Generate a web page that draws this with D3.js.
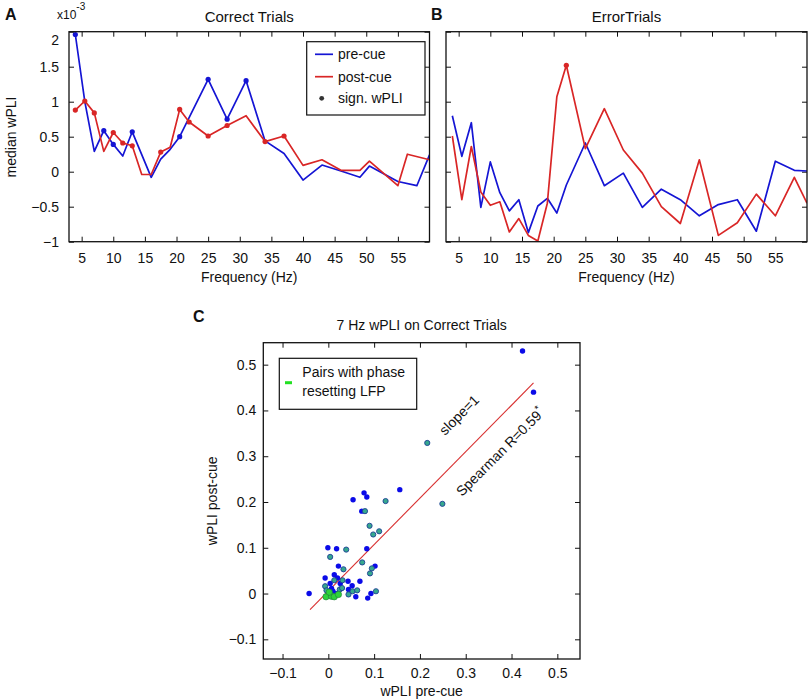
<!DOCTYPE html>
<html><head><meta charset="utf-8">
<script src="https://cdn.jsdelivr.net/npm/d3@7"></script>
<style>
body{margin:0;background:#fff;}
text{font-family:"Liberation Sans",Arial,Helvetica,sans-serif;fill:#111;}
</style></head><body>
<svg id="chart" width="810" height="700"></svg>
<script>
// ---------- data: panel A (Correct Trials) ----------
const freqAPre = [4,5.5,7,8.5,10,11.5,13,16,17.5,19,20.5,25,28,31,34,37,40,43,46,49,50.5,55,58,60];
const valAPre  = [1.96,1.0,0.29,0.586,0.39,0.224,0.57,-0.08,0.18,0.32,0.50,1.32,0.75,1.30,0.44,0.26,-0.12,0.095,0.01,-0.08,0.08,-0.14,-0.20,0.24];
const sigAPre  = [4,8.5,10,13,20.5,25,28,31];
const freqAPost = [4,5.5,7,8.5,10,11.5,13,14.5,16,17.5,19,20.5,22,25,28,31,34,37,40,43,46,49,50.5,55,56.5,60];
const valAPost  = [0.88,1.01,0.84,0.29,0.56,0.41,0.37,-0.04,-0.04,0.28,0.35,0.89,0.71,0.51,0.66,0.80,0.43,0.51,0.09,0.17,0.02,0.02,0.15,-0.20,0.25,0.17];
const sigAPost  = [4,5.5,7,10,11.5,13,17.5,20.5,22,25,28,34,37];
// ---------- data: panel B (Error Trials) ----------
const freqB = [4,5.5,7,8.5,10,11.5,13,14.5,16,17.5,19,20.5,22,25,28,31,34,37,40,43,46,49,52,55,58,60];
const valBPre  = [0.80,0.22,0.70,-0.51,0.14,-0.30,-0.56,-0.40,-0.87,-0.49,-0.38,-0.59,-0.19,0.41,-0.20,-0.02,-0.51,-0.25,-0.40,-0.63,-0.47,-0.40,-0.85,0.15,0.02,0.01];
const valBPost = [0.51,-0.40,0.36,-0.29,-0.48,-0.43,-0.86,-0.67,-0.91,-0.99,-0.45,1.07,1.52,0.33,0.90,0.31,-0.02,-0.50,-0.74,0.17,-0.91,-0.73,-0.32,-0.63,-0.08,-0.45];
const sigBPre  = [];
const sigBPost = [22];
// ---------- axes ticks ----------
const freqTicks = [5,10,15,20,25,30,35,40,45,50,55];
const wpliTicks = [-1,-0.5,0,0.5,1,1.5,2];
const scatTicks = [-0.1,0,0.1,0.2,0.3,0.4,0.5];
// ---------- data: panel C (7 Hz wPLI scatter) ----------
const preCue  = [0.424,0.448,0.216,0.156,0.054,0.078,0.084,0.125,0.249,0.073,0.080,0.090,0.111,0.098,-0.001,0.018,0.039,0.084,0.004,0.074,0.022,0.033,0.102,0.095,0.091,-0.007,0.013,0.020,0.013,0.031,0.043,0.069,0.052,-0.042,-0.007,0.004,0.026,0.025,0.044,0.053,0.063,0.044,0.060,0.086,0.093,0.104,-0.004,0.007,0.017,0.010,0.030,-0.005,0.007,0.013,0.022,0.002];
const postCue = [0.530,0.440,0.329,0.227,0.205,0.220,0.211,0.202,0.196,0.180,0.180,0.148,0.136,0.129,0.100,0.098,0.096,0.098,0.080,0.068,0.060,0.053,0.060,0.055,0.044,0.034,0.041,0.034,0.029,0.029,0.027,0.027,0.017,0.000,0.016,0.022,0.022,0.009,0.009,0.005,0.007,-0.002,-0.007,-0.010,0.000,0.005,0.007,0.011,0.000,0.005,0.012,-0.007,-0.006,-0.007,-0.002,0.003];
const pairType = ["b","b","t","b","b","b","b","t","t","b","t","t","t","t","b","b","t","b","t","t","b","t","b","t","t","b","b","b","t","t","b","b","b","b","t","b","b","t","b","t","t","t","b","b","b","t","t","b","b","b","t","g","g","g","g","g"];
const fitX = [-0.04, 0.448];
const fitY = [-0.035, 0.46];

const BLUE = "#1515d4", RED = "#d92626";
const svg = d3.select("#chart");
const defs = svg.append("defs");

function linePanel(opts){
  const {x0,x1,y0,y1,id} = opts;
  const x = d3.scaleLinear().domain([3,60]).range([x0,x1]);
  const y = d3.scaleLinear().domain([-1,2]).range([y1,y0]);
  const g = svg.append("g");
  defs.append("clipPath").attr("id",id).append("rect")
    .attr("x",x0).attr("y",y0).attr("width",x1-x0).attr("height",y1-y0);
  // axes (inward ticks, all four sides)
  const ax = g.append("g").attr("transform",`translate(0,${y1})`)
    .call(d3.axisBottom(x).tickValues(freqTicks).tickSizeInner(-5).tickSizeOuter(0).tickPadding(11));
  const axT = g.append("g").attr("transform",`translate(0,${y0})`)
    .call(d3.axisTop(x).tickValues(freqTicks).tickSizeInner(-5).tickSizeOuter(0).tickFormat(""));
  const ay = g.append("g").attr("transform",`translate(${x0},0)`)
    .call(d3.axisLeft(y).tickValues(wpliTicks).tickSizeInner(-5).tickSizeOuter(0).tickPadding(10)
      .tickFormat(opts.yLabels ? d3.format("") : ""));
  const ayR = g.append("g").attr("transform",`translate(${x1},0)`)
    .call(d3.axisRight(y).tickValues(wpliTicks).tickSizeInner(-5).tickSizeOuter(0).tickFormat(""));
  [ax,axT,ay,ayR].forEach(a=>{a.select(".domain").remove();
    a.selectAll("line").attr("stroke","#111").attr("stroke-width",1);
    a.selectAll("text").attr("font-size",14).attr("font-family","Liberation Sans, Arial, sans-serif").attr("fill","#111");});
  if(opts.yLabels){
    ay.selectAll(".tick").filter(d=>d===2).select("text").attr("dy","0.95em");
  }
  const line = d3.line().x(d=>x(d[0])).y(d=>y(d[1]));
  const plot = g.append("g").attr("clip-path",`url(#${id})`);
  opts.series.forEach(s=>{
    const pts = s.f.map((f,i)=>[f,s.v[i]]);
    plot.append("path").datum(pts).attr("d",line).attr("fill","none")
      .attr("stroke",s.color).attr("stroke-width",1.7).attr("stroke-linejoin","round");
    plot.selectAll(null).data(pts.filter(p=>s.sig.includes(p[0]))).enter().append("circle")
      .attr("cx",d=>x(d[0])).attr("cy",d=>y(d[1])).attr("r",2.6).attr("fill",s.color);
  });
  g.append("rect").attr("x",x0).attr("y",y0).attr("width",x1-x0).attr("height",y1-y0)
    .attr("fill","none").attr("stroke","#111").attr("stroke-width",1.3);
  g.append("text").attr("x",(x0+x1)/2).attr("y",22).attr("text-anchor","middle")
    .attr("font-size",15).text(opts.title);
  g.append("text").attr("x",(x0+x1)/2).attr("y",282).attr("text-anchor","middle")
    .attr("font-size",14).text("Frequency (Hz)");
  return {x,y,g};
}

const A = linePanel({x0:69,x1:429.5,y0:31.7,y1:241.7,id:"clipA",title:"Correct Trials",yLabels:true,
  series:[{f:freqAPre,v:valAPre,sig:sigAPre,color:BLUE},{f:freqAPost,v:valAPost,sig:sigAPost,color:RED}]});
const B = linePanel({x0:446,x1:807,y0:31.7,y1:241.7,id:"clipB",title:"ErrorTrials",yLabels:false,
  series:[{f:freqB,v:valBPre,sig:sigBPre,color:BLUE},{f:freqB,v:valBPost,sig:sigBPost,color:RED}]});

// panel labels and extras
svg.append("text").attr("x",5).attr("y",20).attr("font-size",16).attr("font-weight","bold").text("A");
svg.append("text").attr("x",431).attr("y",20).attr("font-size",16).attr("font-weight","bold").text("B");
svg.append("text").attr("x",193).attr("y",322).attr("font-size",16).attr("font-weight","bold").text("C");
const ex = svg.append("text").attr("x",57).attr("y",19).attr("font-size",12);
ex.append("tspan").text("x10");
ex.append("tspan").attr("dy",-9).attr("font-size",10).text("-3");
svg.append("text").attr("transform","translate(16,137) rotate(-90)").attr("text-anchor","middle")
  .attr("font-size",14).text("median wPLI");

// legend A
const lg = svg.append("g");
lg.append("rect").attr("x",306.7).attr("y",41.7).attr("width",118.3).attr("height",73.3)
  .attr("fill","#fff").attr("stroke","#111").attr("stroke-width",1.2);
[["pre-cue",BLUE,54.3],["post-cue",RED,76.7]].forEach(([t,c,yy])=>{
  lg.append("line").attr("x1",315).attr("x2",333).attr("y1",yy).attr("y2",yy).attr("stroke",c).attr("stroke-width",1.7);
  lg.append("text").attr("x",338).attr("y",yy+5).attr("font-size",14).text(t);
});
lg.append("circle").attr("cx",321.7).attr("cy",98.3).attr("r",2.4).attr("fill","#333");
lg.append("text").attr("x",338).attr("y",103.3).attr("font-size",14).text("sign. wPLI");

// ---------- panel C ----------
const cx0=263.3, cx1=580, cy0=342.7, cy1=659;
const xs = d3.scaleLinear().domain([-0.142,0.5495]).range([cx0,cx1]);
const ys = d3.scaleLinear().domain([-0.143,0.548]).range([cy1,cy0]);
const gc = svg.append("g");
const cax = gc.append("g").attr("transform",`translate(0,${cy1})`)
  .call(d3.axisBottom(xs).tickValues(scatTicks).tickSizeInner(-5).tickSizeOuter(0).tickPadding(9).tickFormat(d3.format("")));
const caxT = gc.append("g").attr("transform",`translate(0,${cy0})`)
  .call(d3.axisTop(xs).tickValues(scatTicks).tickSizeInner(-5).tickSizeOuter(0).tickFormat(""));
const cay = gc.append("g").attr("transform",`translate(${cx0},0)`)
  .call(d3.axisLeft(ys).tickValues(scatTicks).tickSizeInner(-5).tickSizeOuter(0).tickPadding(7).tickFormat(d3.format("")));
const cayR = gc.append("g").attr("transform",`translate(${cx1},0)`)
  .call(d3.axisRight(ys).tickValues(scatTicks).tickSizeInner(-5).tickSizeOuter(0).tickFormat(""));
[cax,caxT,cay,cayR].forEach(a=>{a.select(".domain").remove();
  a.selectAll("line").attr("stroke","#111").attr("stroke-width",1);
  a.selectAll("text").attr("font-size",14).attr("font-family","Liberation Sans, Arial, sans-serif").attr("fill","#111");});
gc.append("rect").attr("x",cx0).attr("y",cy0).attr("width",cx1-cx0).attr("height",cy1-cy0)
  .attr("fill","none").attr("stroke","#111").attr("stroke-width",1.3);

// fit line
gc.append("line").attr("x1",xs(fitX[0])).attr("y1",ys(fitY[0])).attr("x2",xs(fitX[1])).attr("y2",ys(fitY[1]))
  .attr("stroke","#d83030").attr("stroke-width",1.1);

// points
const pts = preCue.map((v,i)=>({x:v,y:postCue[i],t:pairType[i]}));
gc.selectAll(null).data(pts.filter(d=>d.t==="b")).enter().append("circle")
  .attr("cx",d=>xs(d.x)).attr("cy",d=>ys(d.y)).attr("r",2.7).attr("fill","#0b0be8");
gc.selectAll(null).data(pts.filter(d=>d.t==="t")).enter().append("circle")
  .attr("cx",d=>xs(d.x)).attr("cy",d=>ys(d.y)).attr("r",2.6).attr("fill","#36a88e").attr("stroke","#1e3f96").attr("stroke-width",0.9);
gc.selectAll(null).data(pts.filter(d=>d.t==="g")).enter().append("circle")
  .attr("cx",d=>xs(d.x)).attr("cy",d=>ys(d.y)).attr("r",3.2).attr("fill","#2fd23a").attr("stroke","#1f7a3a").attr("stroke-width",0.6);

// annotations
gc.append("text").attr("transform","translate(445,436) rotate(-45)").attr("font-size",14).text("slope=1");
const sp = gc.append("text").attr("transform","translate(462,497) rotate(-45)").attr("font-size",14);
sp.append("tspan").text("Spearman R=0.59");
sp.append("tspan").attr("dy",-6).attr("font-size",10).text("*");

gc.append("text").attr("x",(cx0+cx1)/2).attr("y",330).attr("text-anchor","middle").attr("font-size",14)
  .text("7 Hz wPLI on Correct Trials");
gc.append("text").attr("x",(cx0+cx1)/2).attr("y",696).attr("text-anchor","middle").attr("font-size",14)
  .text("wPLI pre-cue");
gc.append("text").attr("transform",`translate(217,${(cy0+cy1)/2}) rotate(-90)`).attr("text-anchor","middle")
  .attr("font-size",14).text("wPLI post-cue");

// legend C
const lc = gc.append("g");
lc.append("rect").attr("x",279.3).attr("y",358.3).attr("width",137.4).attr("height",51)
  .attr("fill","#fff").attr("stroke","#111").attr("stroke-width",1.2);
lc.append("line").attr("x1",285).attr("x2",292).attr("y1",382.7).attr("y2",382.7).attr("stroke","#22e022").attr("stroke-width",3);
lc.append("text").attr("x",302.3).attr("y",377.3).attr("font-size",14).text("Pairs with phase");
lc.append("text").attr("x",302.3).attr("y",395.7).attr("font-size",14).text("resetting LFP");
</script>
</body></html>
